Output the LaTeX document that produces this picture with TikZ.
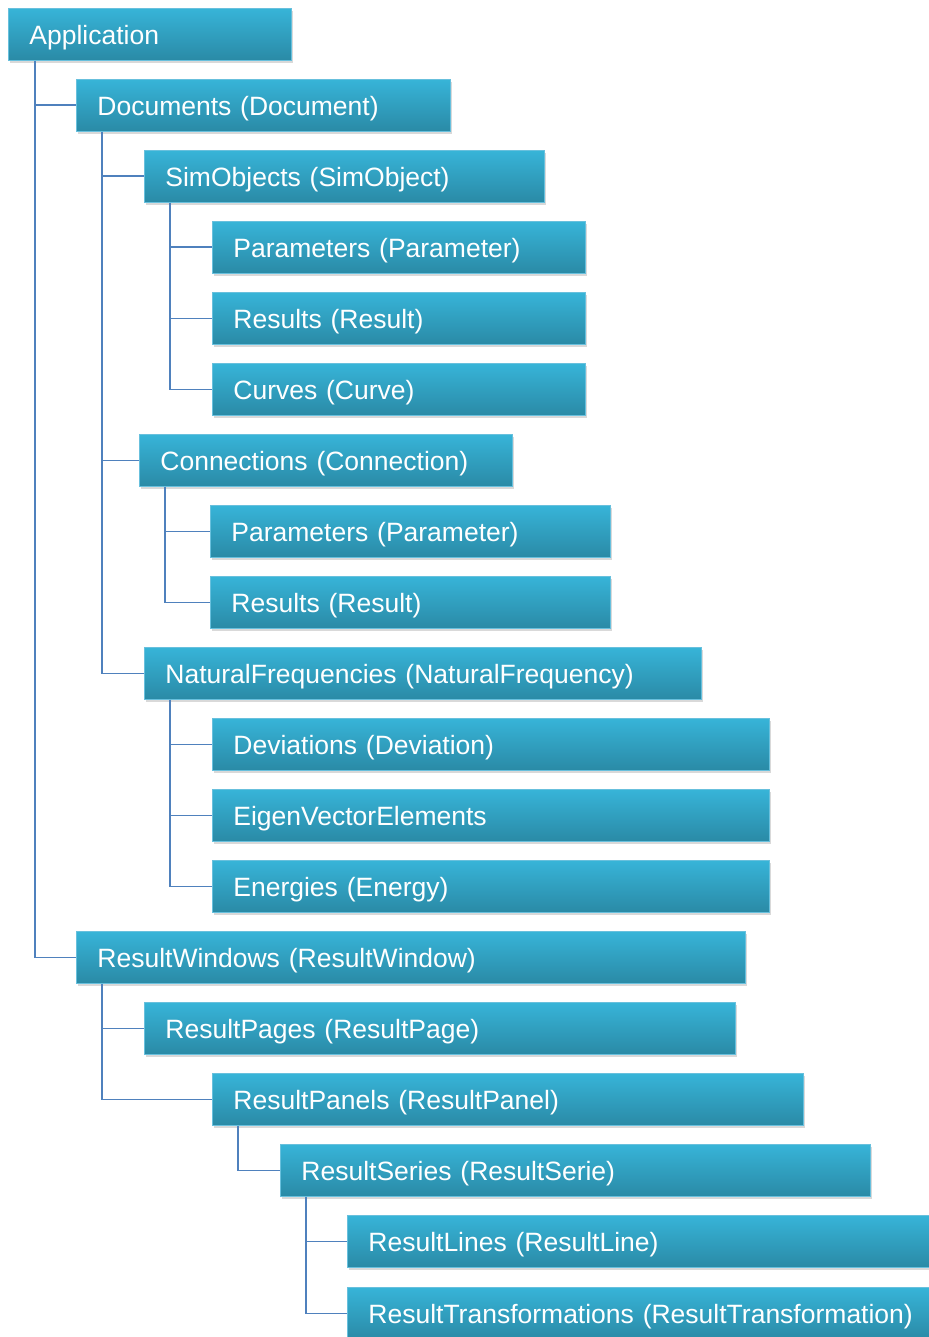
\documentclass[tikz,border=0pt]{standalone}
\usepackage{fontspec}
\setmainfont{Liberation Sans}
\usepackage{xcolor}
\usetikzlibrary{shadows}

\definecolor{boxtop}{RGB}{55,180,216}
\definecolor{boxbottom}{RGB}{42,138,166}
\definecolor{boxline}{RGB}{104,192,221}
\definecolor{treeline}{RGB}{79,129,189}

\begin{document}
\begin{tikzpicture}[x=1bp,y=-1bp,
    box/.style={anchor=north west, rectangle, draw=boxline, line width=0.8bp,
        top color=boxtop, bottom color=boxbottom, text=white,
        minimum height=52bp, inner xsep=21bp, inner ysep=0pt, align=left,
        text height=24bp, text depth=4bp,
        font=\fontsize{26.5bp}{30bp}\selectfont,
        drop shadow={shadow xshift=2bp, shadow yshift=-3bp, opacity=0.3}},
    tree/.style={draw=treeline, line width=1.8bp}]
    % \draw[help lines] grid (928,1337);

    \useasboundingbox (0,0) rectangle (928,1337);

    % Application
    \node[box, text width=241bp] (app) at (8,8) {Application};

    % Documents
    \node[box, text width=332bp] (docs) at (76,79) {Documents (Document)};
    \node[box, text width=358bp] (simobj) at (144,150) {SimObjects (SimObject)};
    \node[box, text width=331bp] (simpar) at (212,221) {Parameters (Parameter)};
    \node[box, text width=331bp] (simres) at (212,292) {Results (Result)};
    \node[box, text width=331bp] (simcurve) at (212,363) {Curves (Curve)};
    \node[box, text width=331bp] (conn) at (139,434) {Connections (Connection)};
    \node[box, text width=358bp] (connpar) at (210,505) {Parameters (Parameter)};
    \node[box, text width=358bp] (connres) at (210,576) {Results (Result)};
    \node[box, text width=515bp] (natfreq) at (144,647) {NaturalFrequencies (NaturalFrequency)};
    \node[box, text width=515bp] (dev) at (212,718) {Deviations (Deviation)};
    \node[box, text width=515bp] (eigen) at (212,789) {EigenVectorElements};
    \node[box, text width=515bp] (energy) at (212,860) {Energies (Energy)};

    % ResultWindows
    \node[box, text width=627bp] (rwin) at (76,931) {ResultWindows (ResultWindow)};
    \node[box, text width=549bp] (rpage) at (144,1002) {ResultPages (ResultPage)};
    \node[box, text width=549bp] (rpanel) at (212,1073) {ResultPanels (ResultPanel)};
    \node[box, text width=548bp] (rserie) at (280,1144) {ResultSeries (ResultSerie)};
    \node[box, text width=558bp] (rline) at (347,1215) {ResultLines (ResultLine)};
    \node[box, text width=558bp] (rtrans) at (347,1287) {ResultTransformations (ResultTransformation)};

    % Tree lines
    \draw[tree] ([xshift=27bp]app.south west) |- (docs.west)
        ([xshift=27bp]app.south west) |- (rwin.west);
    \foreach \p/\c in {docs/simobj,docs/conn,docs/natfreq,
            simobj/simpar,simobj/simres,simobj/simcurve,
            conn/connpar,conn/connres,
            natfreq/dev,natfreq/eigen,natfreq/energy,
            rwin/rpage,rwin/rpanel,rpanel/rserie,
            rserie/rline,rserie/rtrans} {
        \draw[tree] ([xshift=26bp]\p.south west) |- (\c.west);
    }

\end{tikzpicture}
\end{document}
